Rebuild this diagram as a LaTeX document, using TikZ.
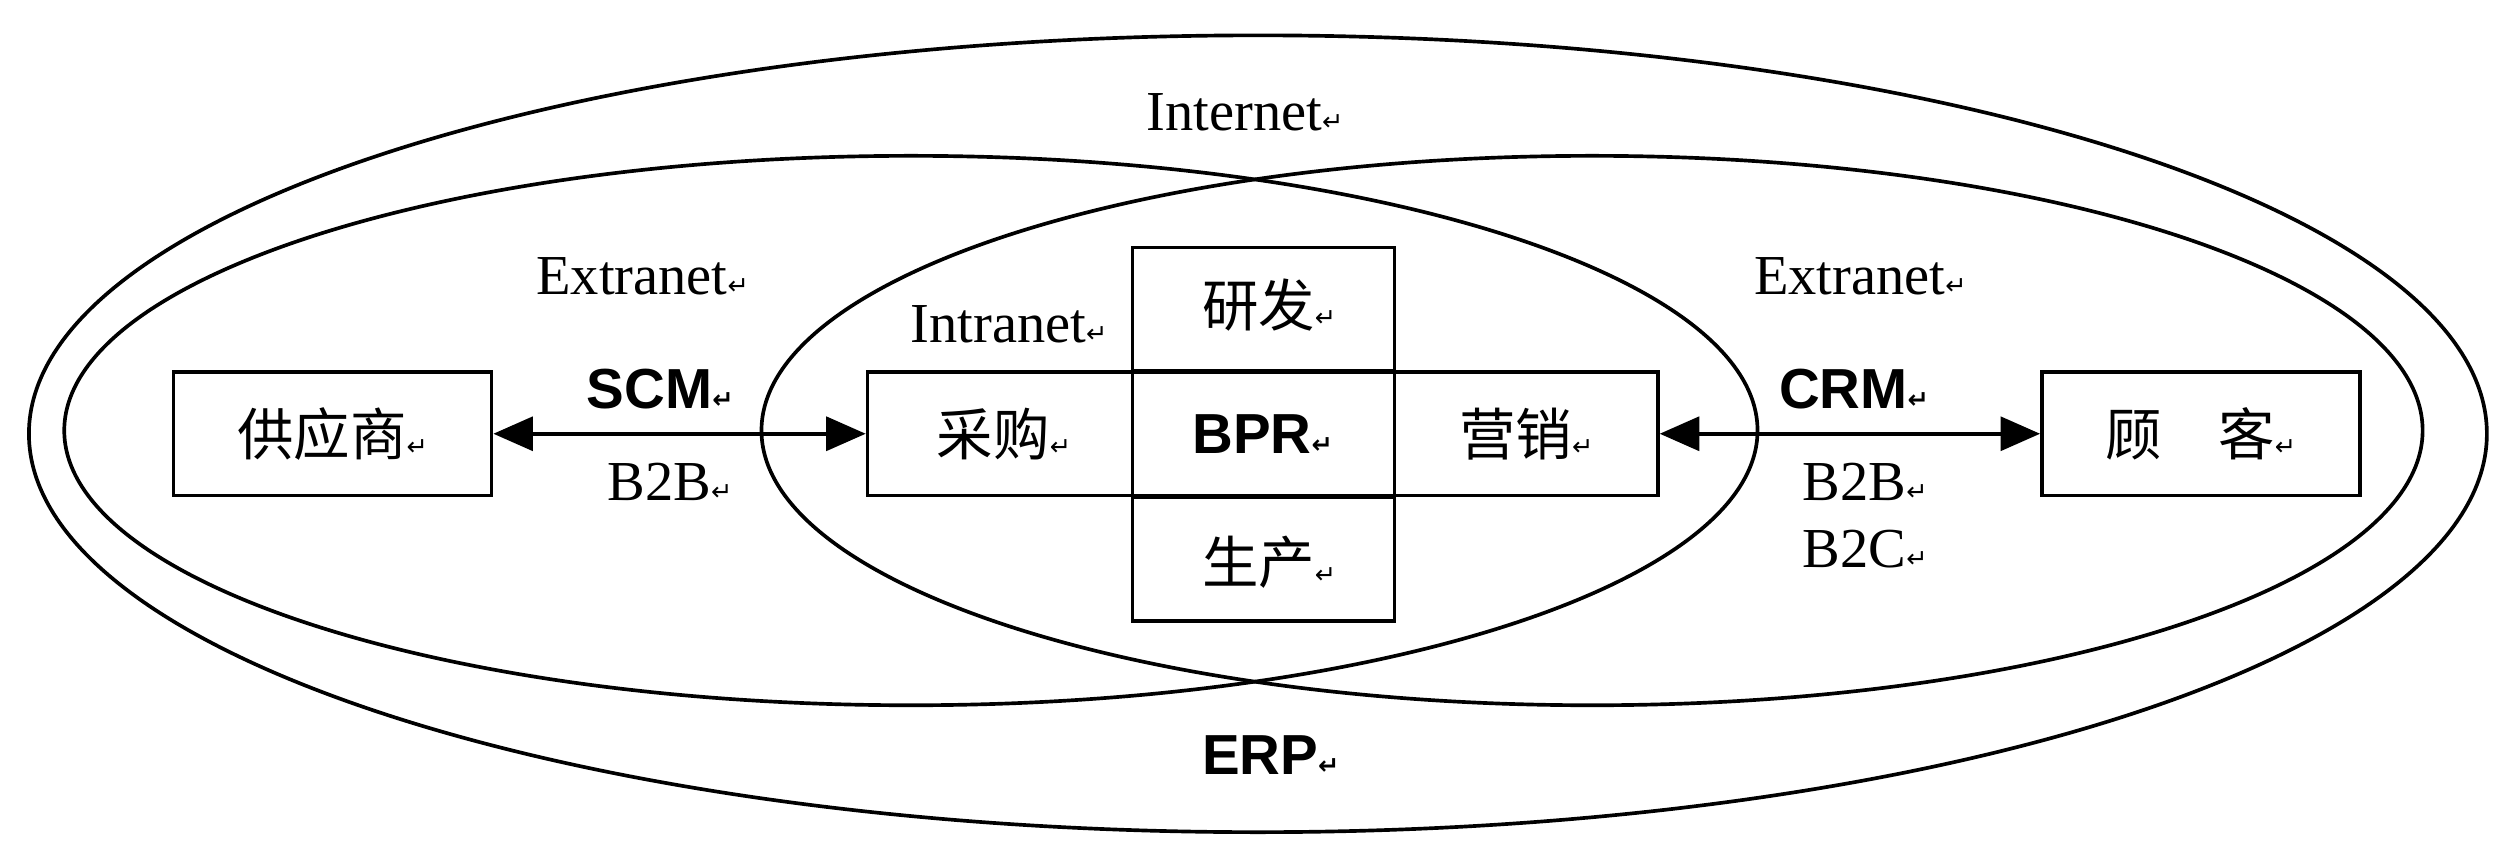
\documentclass[tikz,border=0pt]{standalone}
\usepackage{fontspec}
\setmainfont{Liberation Serif}
\newfontfamily\cjk{Noto Sans CJK SC}
\newfontfamily\arial{Liberation Sans}
\newfontfamily\dv{DejaVu Sans}
\usetikzlibrary{arrows.meta}
\newcommand{\parmk}{{\dv\fontsize{9}{9}\selectfont ↵}}
\tikzset{
 ln/.style={line width=1.3pt},
 bx/.style={ln,draw,minimum height=1.54cm,inner sep=0pt},
 tx/.style={font=\fontsize{20}{24}\selectfont},
 bd/.style={font=\arial\bfseries\fontsize{20}{24}\selectfont},
 zh/.style={font=\cjk\fontsize{20}{24}\selectfont},
 ar/.style={ln,{Triangle[length=14pt,width=12pt]}-{Triangle[length=14pt,width=12pt]}}
}
\begin{document}
\begin{tikzpicture}[x=0.02cm,y=-0.02cm]
\useasboundingbox (0,0) rectangle (1568,533);
\draw[ln] (783,270) ellipse [x radius=765,y radius=248];
\draw[ln] (567,268) ellipse [x radius=527,y radius=171];
\draw[ln] (991,268) ellipse [x radius=517,y radius=171];
% boxes
\node[bx,minimum width=3.96cm] (sup) at (207,270) {};
\node[zh] at (207,270) {供应商\parmk};
\node[bx,minimum width=3.96cm] (cus) at (1370,270) {};
\node[zh] at (1370,270) {顾\quad 客\parmk};
\node[bx,minimum width=3.3cm] (cg) at (622.5,270) {};
\node[bx,minimum width=3.26cm] (bpr) at (786.5,270) {};
\node[bx,minimum width=3.28cm] (yx) at (950,270) {};
\node[bx,minimum width=3.26cm] (yf) at (786.5,192.5) {};
\node[bx,minimum width=3.26cm] (sc) at (786.5,348) {};
\node[zh] at (625,270) {采购\parmk};
\node[bd] at (786,270) {BPR\parmk};
\node[zh] at (950,270) {营销\parmk};
\node[zh] at (790,190) {研发\parmk};
\node[zh] at (790,350) {生产\parmk};
% arrows
\draw[ar] (sup.east) -- (cg.west);
\draw[ar] (yx.east) -- (cus.west);
% labels
\node[tx] at (775,70) {Internet\parmk};
\node[tx] at (400,172) {Extranet\parmk};
\node[tx] at (1158,172) {Extranet\parmk};
\node[tx] at (628,202) {Intranet\parmk};
\node[bd] at (411,242) {SCM\parmk};
\node[tx] at (417,300) {B2B\parmk};
\node[bd] at (1154,242) {CRM\parmk};
\node[tx] at (1161,300) {B2B\parmk};
\node[tx] at (1161,342) {B2C\parmk};
\node[bd] at (791,470) {ERP\parmk};
\end{tikzpicture}
\end{document}
